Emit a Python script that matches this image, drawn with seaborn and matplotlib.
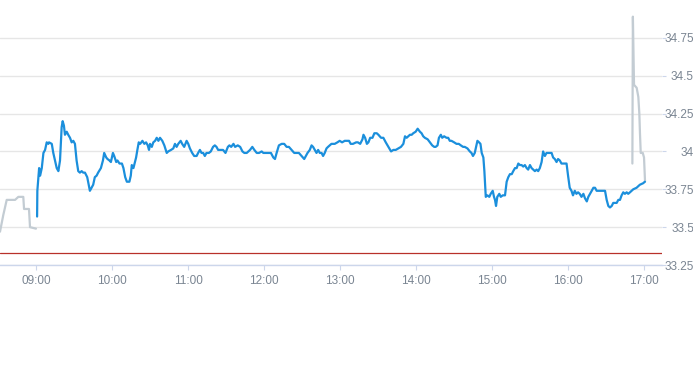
import numpy as np
import pandas as pd
import matplotlib
matplotlib.use("Agg")
import matplotlib.pyplot as plt
import seaborn as sns
from matplotlib.ticker import FuncFormatter, FixedLocator

# ---------------- data (minutes after 09:00, price) ----------------
pre_minutes = [-28.6, -26.0, -23.3, -16.7, -14.1, -11.5, -10.2, -9.6, -5.7, -4.9, -0.2]
pre_price = [33.47, 33.58, 33.68, 33.68, 33.70, 33.70, 33.70, 33.62, 33.62, 33.50, 33.49]

session_minutes = [
    0.7, 0.9, 2.3, 3.1, 4.4, 5.7, 7.0, 8.3, 9.6, 10.1, 12.3, 13.5, 16.2, 17.5, 18.8,
    20.1, 20.9, 21.9, 22.7, 24.1, 25.3, 26.7, 28.0, 29.3, 30.6, 31.9, 33.2, 34.5,
    35.9, 37.1, 38.5, 40.3, 42.4, 43.7, 45.0, 46.3, 47.7, 48.9, 51.1, 52.7, 53.7,
    55.3, 56.3, 57.9, 59.0, 60.6, 61.6, 63.2, 64.2, 65.8, 67.7, 68.9, 70.3, 71.6,
    73.6, 74.7, 75.5, 76.8, 78.9, 79.9, 81.0, 82.1, 83.9, 85.4, 86.8, 88.1, 89.1,
    89.9, 91.3, 92.5, 93.9, 95.2, 96.5, 97.8, 99.6, 101.2, 103.1, 104.3, 106.5,
    108.3, 109.6, 110.9, 112.2, 114.1, 115.3, 116.9, 118.8, 120.1, 121.4, 123.2,
    124.8, 126.7, 127.9, 129.3, 130.6, 131.9, 133.2, 134.5, 136.4, 137.9, 139.7,
    141.1, 142.4, 143.7, 145.8, 147.6, 149.5, 151.4, 152.6, 154.0, 155.8, 157.1,
    159.2, 161.1, 162.9, 164.4, 166.3, 168.9, 170.7, 172.3, 174.2, 176.0, 178.1,
    179.4, 181.3, 183.3, 185.4, 187.3, 188.6, 189.9, 191.7, 193.9, 195.9, 197.8,
    199.6, 201.7, 203.8, 205.7, 207.5, 209.6, 211.7, 213.0, 214.3, 216.1, 217.5,
    218.7, 220.1, 221.4, 222.7, 224.0, 225.4, 226.6, 227.9, 229.3, 230.5, 231.9,
    233.2, 234.5, 235.8, 237.9, 239.7, 241.6, 243.7, 245.8, 247.1, 248.4, 250.2,
    252.7, 254.1, 255.9, 257.7, 258.5, 259.8, 261.2, 262.4, 263.8, 265.6, 267.1,
    269.0, 270.3, 272.4, 274.2, 276.1, 278.2, 280.3, 282.1, 284.0, 286.0, 288.1,
    290.0, 291.3, 292.6, 293.9, 295.2, 296.6, 297.8, 299.7, 301.3, 303.1, 304.4,
    305.7, 307.0, 309.2, 311.0, 312.8, 314.4, 315.5, 317.0, 318.1, 319.6, 320.7,
    322.2, 324.1, 325.4, 326.7, 328.0, 330.1, 332.0, 333.8, 335.4, 337.2, 338.5,
    340.6, 342.5, 343.8, 345.0, 346.4, 347.7, 348.5, 349.8, 350.9, 351.9, 353.2,
    354.0, 355.1, 356.4, 357.9, 359.0, 360.6, 361.6, 362.4, 363.2, 364.2, 365.8,
    366.9, 368.5, 370.3, 371.6, 372.9, 374.2, 375.6, 376.8, 378.2, 379.5, 380.8,
    382.1, 383.4, 384.7, 386.0, 387.4, 388.6, 390.0, 391.3, 392.6, 393.9, 395.3,
    396.5, 397.8, 399.2, 400.4, 401.8, 403.1, 404.4, 405.7, 407.1, 408.3, 409.6,
    411.0, 412.2, 413.6, 414.9, 416.2, 417.5, 418.9, 420.1, 421.4, 422.8, 424.0,
    425.4, 426.7, 428.0, 429.3, 430.7, 432.2, 433.5, 434.9, 436.1, 437.5, 438.8,
    440.1, 441.4, 442.7, 444.0, 445.3, 447.9, 449.3, 450.6, 451.9, 453.2, 454.6,
    455.8, 457.2, 458.5, 459.8, 461.1, 462.4, 463.7, 465.0, 466.4, 467.6, 469.0,
    471.6, 474.2, 476.8, 479.4, 480.8,
]
session_price = [
    33.57, 33.74, 33.89, 33.84, 33.89, 33.99, 34.01, 34.06, 34.05, 34.06, 34.05, 33.99, 33.89, 33.87, 33.94,
    34.16, 34.20, 34.17, 34.11, 34.13, 34.11, 34.09, 34.06, 34.07, 34.05, 33.94, 33.87, 33.86,
    33.87, 33.86, 33.86, 33.83, 33.74, 33.76, 33.78, 33.83, 33.84, 33.86, 33.89, 33.94, 33.99,
    33.96, 33.95, 33.94, 33.93, 33.99, 33.97, 33.93, 33.94, 33.92, 33.92, 33.89, 33.83, 33.80,
    33.80, 33.84, 33.91, 33.89, 33.96, 34.01, 34.06, 34.05, 34.07, 34.05, 34.06, 34.04, 34.01,
    34.05, 34.03, 34.06, 34.07, 34.09, 34.07, 34.09, 34.07, 34.04, 33.99, 34.00, 34.01,
    34.02, 34.05, 34.03, 34.05, 34.07, 34.05, 34.03, 34.07, 34.05, 34.02, 33.99,
    33.97, 33.97, 33.99, 34.01, 33.99, 33.99, 33.97, 33.99, 33.99, 34.00, 34.03,
    34.04, 34.03, 34.01, 34.01, 34.01, 33.99, 34.03, 34.04, 34.03, 34.05, 34.03,
    34.04, 34.03, 34.00, 33.99, 33.99, 34.01, 34.03, 34.01, 33.99, 33.99, 34.00,
    33.99, 33.99, 33.99, 33.99, 33.96, 33.95, 33.99, 34.04, 34.05, 34.05, 34.03,
    34.03, 34.01, 33.99, 33.99, 33.99, 33.97, 33.95, 33.97, 33.99, 34.01, 34.04,
    34.03, 34.01, 33.99, 34.01, 33.99, 33.99, 33.97, 33.99, 34.02, 34.03, 34.04,
    34.05, 34.05, 34.05, 34.06, 34.07, 34.06, 34.07, 34.07, 34.07, 34.05, 34.05,
    34.06, 34.06, 34.05, 34.08, 34.11, 34.09, 34.05, 34.06, 34.09, 34.09, 34.12,
    34.12, 34.11, 34.09, 34.09, 34.06, 34.03, 34.00, 34.01, 34.01, 34.02, 34.03,
    34.05, 34.10, 34.09, 34.10, 34.11, 34.11, 34.12, 34.13, 34.15, 34.13, 34.12,
    34.10, 34.09, 34.08, 34.06, 34.04, 34.03, 34.03, 34.04, 34.09, 34.11, 34.09,
    34.10, 34.09, 34.09, 34.07, 34.07, 34.06, 34.05, 34.05, 34.04, 34.03, 34.03,
    34.02, 34.00, 33.99, 33.97, 33.99, 34.04, 34.07, 34.06, 34.05, 33.99, 33.96,
    33.87, 33.70, 33.71, 33.70, 33.72, 33.74, 33.70, 33.68, 33.64, 33.70, 33.72,
    33.70, 33.71, 33.71, 33.80, 33.83, 33.85, 33.85, 33.87, 33.89, 33.89, 33.92,
    33.91, 33.91, 33.90, 33.91, 33.89, 33.88, 33.91, 33.89, 33.88, 33.87, 33.88,
    33.87, 33.89, 33.93, 34.00, 33.97, 33.99, 33.99, 33.99, 33.99, 33.96, 33.95,
    33.93, 33.95, 33.94, 33.92, 33.92, 33.92, 33.92, 33.84, 33.76, 33.74, 33.71,
    33.74, 33.72, 33.73, 33.72, 33.70, 33.72, 33.69, 33.67, 33.70, 33.72, 33.74,
    33.76, 33.76, 33.74, 33.74, 33.74, 33.74, 33.74, 33.68, 33.64, 33.63, 33.64,
    33.66, 33.66, 33.66, 33.68, 33.68, 33.71, 33.73, 33.72, 33.73, 33.72, 33.73,
    33.75, 33.76, 33.78, 33.79, 33.80,
]

post_minutes = [470.9, 471.3, 472.2, 474.3, 475.6, 476.4, 476.9, 477.5, 479.1, 480.1, 480.9]
post_price = [33.92, 34.89, 34.44, 34.42, 34.36, 34.25, 34.12, 33.99, 33.99, 33.96, 33.80]

prev_close = 33.33
hour_ticks = [9, 10, 11, 12, 13, 14, 15, 16, 17]
price_ticks = [33.25, 33.5, 33.75, 34.0, 34.25, 34.5, 34.75]

# ---------------- style ----------------
sns.set_style("white")
plt.rcParams['font.family'] = ['Liberation Sans', 'DejaVu Sans']

LABEL_C = '#7a8592'
AXIS_C = '#ccd6eb'
GRID_C = '#e6e6e6'
BLUE = '#1b8fdc'
GRAY = '#c3ccd3'
RED = '#b8312a'

fig = plt.figure(figsize=(6.93, 3.65), dpi=100)
ax = fig.add_axes([0, 100 / 365, 662 / 693, 265 / 365])

df_pre = pd.DataFrame({'hour': 9 + np.array(pre_minutes) / 60, 'price': pre_price})
df_ses = pd.DataFrame({'hour': 9 + np.array(session_minutes) / 60, 'price': session_price})
df_post = pd.DataFrame({'hour': 9 + np.array(post_minutes) / 60, 'price': post_price})

ax.axhline(prev_close, color=RED, lw=0.9, zorder=2)
sns.lineplot(data=df_pre, x='hour', y='price', color=GRAY, lw=1.6,
             estimator=None, sort=False, ax=ax, zorder=3)
sns.lineplot(data=df_post, x='hour', y='price', color=GRAY, lw=1.6,
             estimator=None, sort=False, ax=ax, zorder=3)
sns.lineplot(data=df_ses, x='hour', y='price', color=BLUE, lw=1.6,
             estimator=None, sort=False, ax=ax, zorder=4)

ax.set_xlim(9 - 28.6 / 60, 9 + 494.3 / 60)
ax.set_ylim(33.25, 35.0)
ax.set_xlabel('')
ax.set_ylabel('')

ax.xaxis.set_major_locator(FixedLocator(hour_ticks))
ax.xaxis.set_major_formatter(FuncFormatter(lambda v, p: f"{int(round(v)):02d}:00"))
ax.yaxis.set_major_locator(FixedLocator(price_ticks))
ax.yaxis.set_major_formatter(FuncFormatter(lambda v, p: f"{v:g}"))
ax.yaxis.tick_right()

ax.yaxis.grid(True, color=GRID_C, lw=1.0, zorder=0)
ax.xaxis.grid(False)
for s in ['top', 'left', 'right']:
    ax.spines[s].set_visible(False)
ax.spines['bottom'].set_color(AXIS_C)
ax.spines['bottom'].set_linewidth(1.0)

ax.tick_params(axis='x', length=3.6, width=0.8, color=AXIS_C, pad=3.3,
               labelsize=8.5, labelcolor=LABEL_C, bottom=True)
ax.tick_params(axis='y', length=3.0, width=0.8, color=AXIS_C, pad=20.0,
               labelsize=8.5, labelcolor=LABEL_C, right=True, left=False)
for t in ax.get_yticklabels():
    t.set_horizontalalignment('right')

fig.savefig('out.png', dpi=100)
